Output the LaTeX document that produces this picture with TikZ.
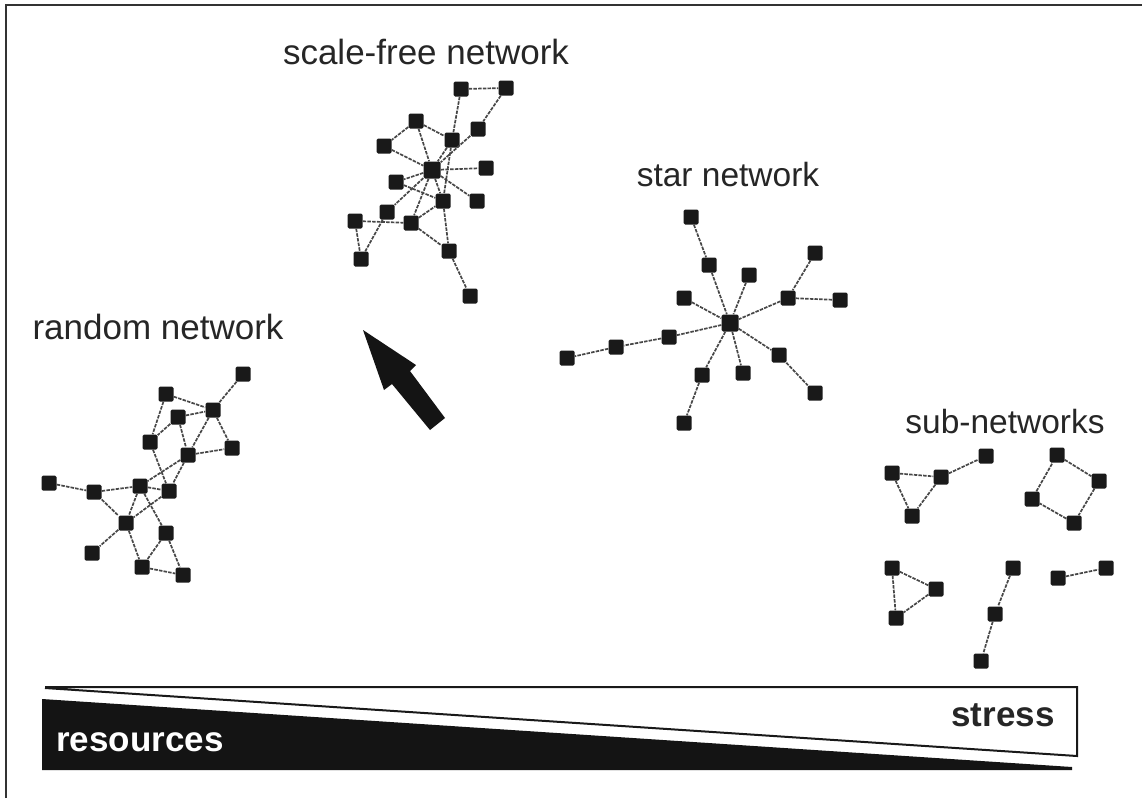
\documentclass[tikz,border=0pt]{standalone}
\usepackage{fontspec}
\setmainfont{Liberation Sans}
\begin{document}
\begin{tikzpicture}[x=1pt,y=-1pt,
  sq/.style={rectangle, fill=black!90, minimum size=15pt, inner sep=0pt, rounded corners=1.5pt},
  hubsq/.style={sq, minimum size=17pt},
  lnk/.style={draw=black!72, line width=1.7pt, dash pattern=on 3.5pt off 1.2pt},
  lbl/.style={anchor=base, font=\fontsize{33.5}{40}\selectfont, text=black!85},
  bar/.style={font=\bfseries\fontsize{35}{42}\selectfont, anchor=base}]
\useasboundingbox (0,0) rectangle (1142,798);
\fill[white] (0,0) rectangle (1142,798);
\draw[line width=1.5pt, black!80] (6,798) -- (6,5) -- (1142,5);

% labels
\node[lbl, font=\fontsize{35}{42}\selectfont] (Lsf) at (426,64) {scale-free network};
\node[lbl] (Lstar) at (728,186) {star network};
\node[lbl, font=\fontsize{35}{42}\selectfont] (Lrand) at (158,339) {random network};
\node[lbl] (Lsub) at (1005,433) {sub-networks};

% random network
\node[sq] (A) at (243,374) {};
\node[sq] (B) at (166,394) {};
\node[sq] (C) at (213,410) {};
\node[sq] (D) at (178,417) {};
\node[sq] (E) at (150,442) {};
\node[sq] (F) at (232,448) {};
\node[sq] (G) at (188,455) {};
\node[sq] (H) at (49,483) {};
\node[sq] (I) at (94,492) {};
\node[sq] (J) at (140,486) {};
\node[sq] (K) at (169,491) {};
\node[sq] (L) at (126,523) {};
\node[sq] (M) at (166,533) {};
\node[sq] (N) at (92,553) {};
\node[sq] (O) at (142,567) {};
\node[sq] (P) at (183,575) {};
\foreach \u/\v in {A/C,B/C,D/C,D/E,B/E,D/G,C/G,C/F,G/F,E/K,G/J,G/K,H/I,I/J,J/K,I/L,J/L,K/L,J/M,L/N,L/O,M/O,M/P,O/P}
  \draw[lnk] (\u) -- (\v);

% scale-free network
\node[sq] (a) at (461,89) {};
\node[sq] (b) at (506,88) {};
\node[sq] (c) at (478,129) {};
\node[sq] (d) at (416,121) {};
\node[sq] (e) at (452,140) {};
\node[sq] (f) at (384,146) {};
\node[hubsq] (g) at (432,170) {};
\node[sq] (h) at (486,168) {};
\node[sq] (i) at (396,182) {};
\node[sq] (j) at (443,201) {};
\node[sq] (k) at (477,201) {};
\node[sq] (l) at (387,212) {};
\node[sq] (m) at (355,221) {};
\node[sq] (n) at (411,223) {};
\node[sq] (o) at (449,251) {};
\node[sq] (p) at (361,259) {};
\node[sq] (q) at (470,296) {};
\foreach \u/\v in {a/b,b/c,a/e,e/j,j/o,d/f,d/e,d/g,f/g,e/g,c/g,g/h,g/i,i/j,g/j,g/k,g/l,g/n,n/j,m/n,m/p,l/p,n/o,o/q}
  \draw[lnk] (\u) -- (\v);

% star network
\node[hubsq] (s0) at (730,323) {};
\node[sq] (s1) at (691,217) {};
\node[sq] (s2) at (709,265) {};
\node[sq] (s3) at (749,275) {};
\node[sq] (s4) at (684,298) {};
\node[sq] (s5) at (815,253) {};
\node[sq] (s6) at (788,298) {};
\node[sq] (s7) at (840,300) {};
\node[sq] (s8) at (669,337) {};
\node[sq] (s9) at (616,347) {};
\node[sq] (s10) at (567,358) {};
\node[sq] (s11) at (702,375) {};
\node[sq] (s12) at (743,373) {};
\node[sq] (s13) at (779,355) {};
\node[sq] (s14) at (815,393) {};
\node[sq] (s15) at (684,423) {};
\foreach \u/\v in {s1/s2,s2/s0,s3/s0,s4/s0,s5/s6,s6/s7,s6/s0,s0/s8,s8/s9,s9/s10,s0/s11,s11/s15,s0/s12,s0/s13,s13/s14}
  \draw[lnk] (\u) -- (\v);

% sub-networks
\node[sq] (t1) at (892,473) {};
\node[sq] (t2) at (941,477) {};
\node[sq] (t3) at (986,456) {};
\node[sq] (t4) at (912,516) {};
\node[sq] (q1) at (1057,455) {};
\node[sq] (q2) at (1099,481) {};
\node[sq] (q3) at (1032,499) {};
\node[sq] (q4) at (1074,523) {};
\node[sq] (r1) at (892,568) {};
\node[sq] (r2) at (936,589) {};
\node[sq] (r3) at (896,618) {};
\node[sq] (u1) at (1013,568) {};
\node[sq] (u2) at (995,614) {};
\node[sq] (u3) at (981,661) {};
\node[sq] (v1) at (1058,578) {};
\node[sq] (v2) at (1106,568) {};
\foreach \u/\v in {t1/t2,t1/t4,t2/t4,t2/t3,q1/q2,q2/q4,q4/q3,q3/q1,r1/r2,r1/r3,r2/r3,u1/u2,u2/u3,v1/v2}
  \draw[lnk] (\u) -- (\v);

% big arrow
\fill[black!92] (363,330) -- (416,365) -- (410,371) -- (445,418) -- (430,430) -- (392,384) -- (384,390) -- cycle;

% resources / stress bar
\fill[black!92] (42,699) -- (1072,767) -- (1072,770) -- (42,770) -- cycle;
\draw[line width=2pt, black!90, line join=miter] (45,688) -- (1077,756) -- (1077,687) -- (45,687);
\node[bar, text=white] (res) at (140,751) {resources};
\node[bar, text=black!85] (str) at (1003,726) {stress};
\end{tikzpicture}
\end{document}
